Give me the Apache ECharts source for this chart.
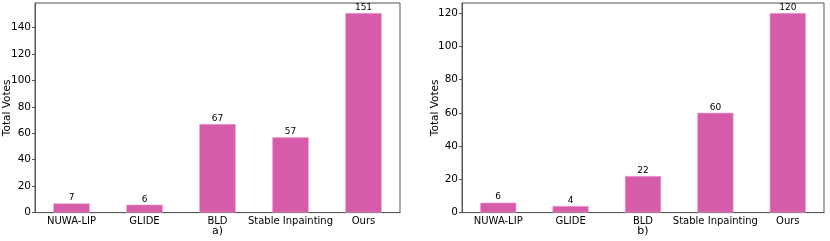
<!DOCTYPE html>
<html><head><meta charset="utf-8">
<script src="https://cdn.jsdelivr.net/npm/echarts@6/dist/echarts.min.js"></script>
<style>html,body{margin:0;padding:0;background:#fff}#c{width:830px;height:241px}</style>
</head><body><div id="c"></div>
<script>
const categories = ['NUWA-LIP', 'GLIDE', 'BLD', 'Stable Inpainting', 'Ours'];
const votesA = [7, 6, 67, 57, 151];
const votesB = [6, 4, 22, 60, 120];
const yTicksA = [0, 20, 40, 60, 80, 100, 120, 140];
const yTicksB = [0, 20, 40, 60, 80, 100, 120];
const panelLabels = ['a)', 'b)'];
const yTitle = 'Total Votes';

const FONT = 'DejaVu Sans';
const BAR = '#d65ba8';
const AX = '#555';

function xAx(gi) {
  return {
    type: 'category', gridIndex: gi, data: categories,
    axisLine: {show: true, lineStyle: {color: AX, width: 1}},
    axisTick: {show: false},
    axisLabel: {color: '#000', fontFamily: FONT, fontSize: 10, margin: 4, interval: 0}
  };
}
function yAx(gi, maxVal, ticks, gap) {
  return {
    type: 'value', gridIndex: gi, min: 0, max: maxVal, interval: 20,
    name: yTitle, nameLocation: 'middle', nameGap: gap, nameRotate: 90, nameMoveOverlap: false,
    nameTextStyle: {color: '#000', fontFamily: FONT, fontSize: 10.5},
    splitLine: {show: false},
    axisLine: {show: true, lineStyle: {color: AX, width: 1}},
    axisTick: {show: true, length: 3, lineStyle: {color: AX}, customValues: ticks},
    axisLabel: {color: '#000', fontFamily: FONT, fontSize: 10.5, margin: 4, customValues: ticks,
      formatter: v => ticks.includes(v) ? String(v) : ''}
  };
}
function series(gi, data) {
  return {
    type: 'bar', xAxisIndex: gi, yAxisIndex: gi, data: data, barWidth: '50%',
    itemStyle: {color: BAR, borderColor: '#eea8d3', borderWidth: 0.6},
    label: {show: true, position: 'top', distance: 1, color: '#000', fontFamily: FONT, fontSize: 9},
    silent: true
  };
}
const grids = [
  {left: 35, top: 3, width: 365, height: 209.6, show: true, borderColor: AX, borderWidth: 1, backgroundColor: 'transparent'},
  {left: 462, top: 3, width: 362, height: 209.6, show: true, borderColor: AX, borderWidth: 1, backgroundColor: 'transparent'}
];
const chart = echarts.init(document.getElementById('c'), null, {renderer: 'canvas'});
chart.setOption({
  animation: false,
  backgroundColor: '#fff',
  grid: grids,
  title: [
    {text: panelLabels[0], left: 217.5, top: 225.5, textAlign: 'center', textStyle: {fontFamily: FONT, fontSize: 11, fontWeight: 'normal', color: '#000'}, padding: 0},
    {text: panelLabels[1], left: 643, top: 225.5, textAlign: 'center', textStyle: {fontFamily: FONT, fontSize: 11, fontWeight: 'normal', color: '#000'}, padding: 0}
  ],
  xAxis: [xAx(0), xAx(1)],
  yAxis: [yAx(0, Math.max(...votesA) * 1.05, yTicksA, 22), yAx(1, Math.max(...votesB) * 1.05, yTicksB, 21)],
  series: [series(0, votesA), series(1, votesB)]
});
</script></body></html>
